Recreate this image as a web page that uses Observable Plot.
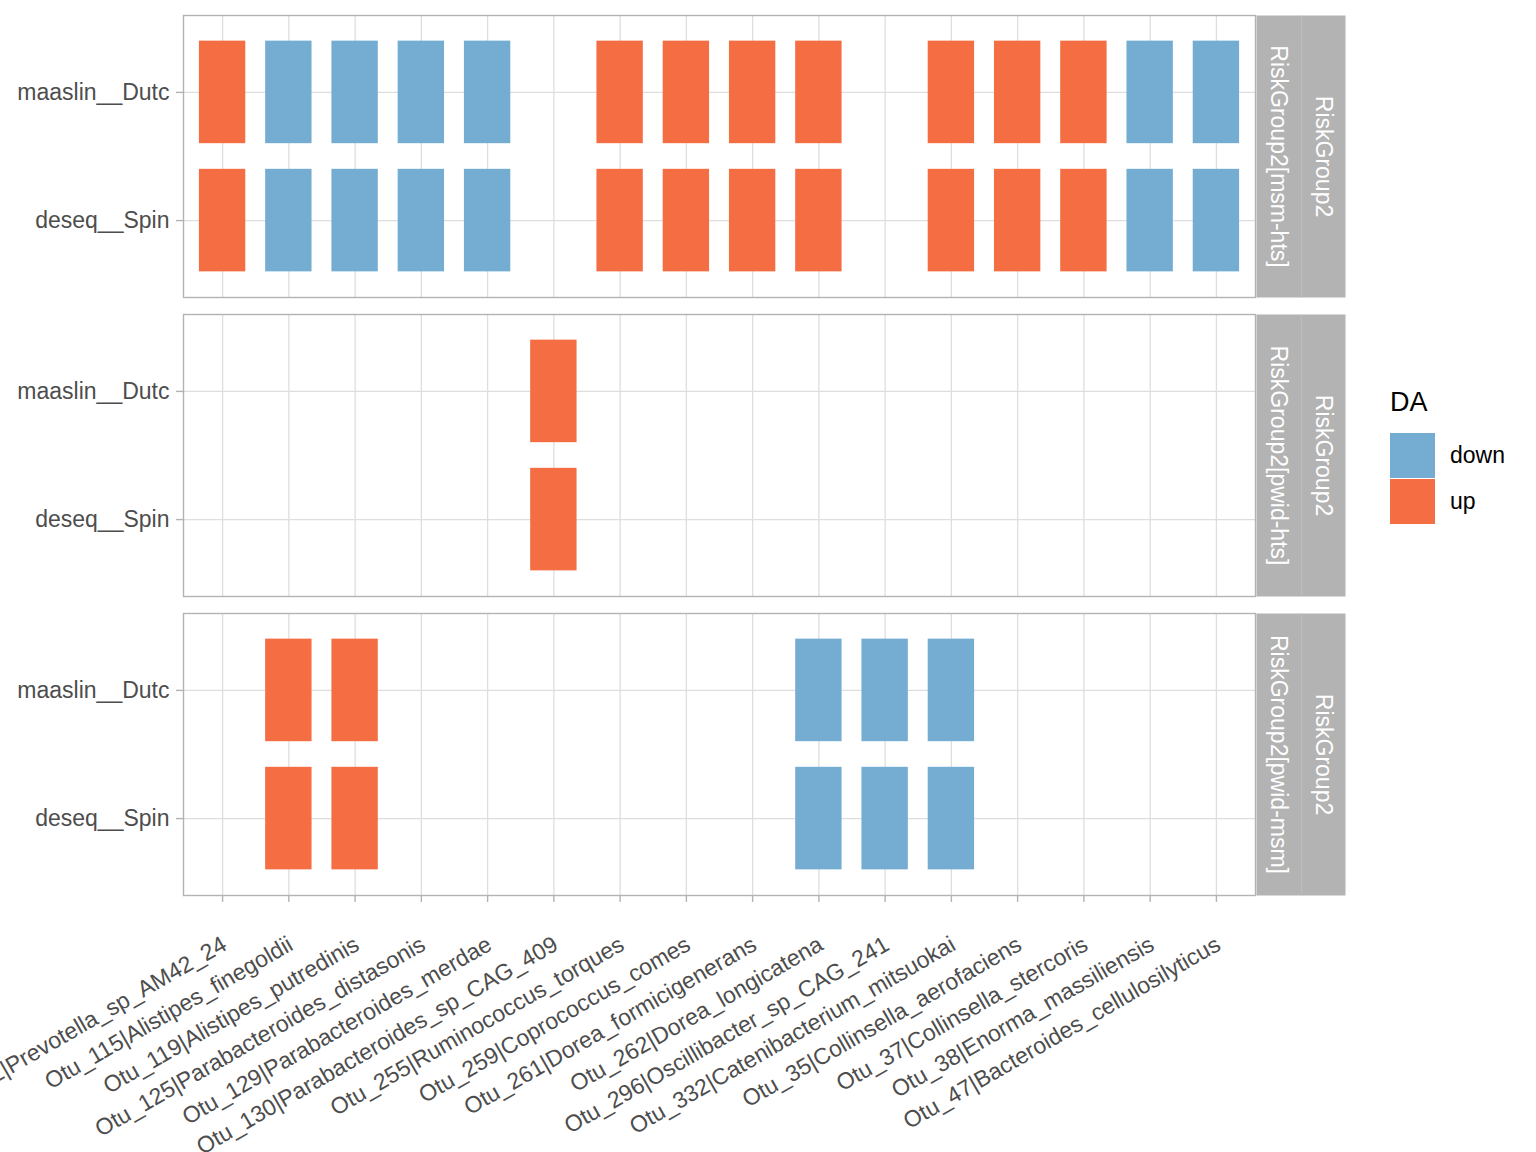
<!DOCTYPE html>
<html>
<head>
<meta charset="utf-8">
<script src="https://cdn.jsdelivr.net/npm/d3@7"></script>
<script src="https://cdn.jsdelivr.net/npm/@observablehq/plot@0.6"></script>
<style>
  html, body { margin: 0; padding: 0; background: white; }
  #wrap { position: relative; width: 1536px; height: 1152px; overflow: hidden; font-family: "Liberation Sans", Arial, sans-serif; }
  #legend { position: absolute; left: 1390px; top: 386px; color: #000; }
  #legend .title { font-size: 27px; line-height: 32px; margin-bottom: 14px; }
  #legend .row { display: flex; align-items: center; height: 46px; }
  #legend .key { width: 45px; height: 45px; margin-right: 15px; }
  #legend .lab { font-size: 23px; }
</style>
</head>
<body>
<div id="wrap"><div id="chart"></div><div id="legend"></div></div>
<script>
// ---- data ----
const otus = [
  "Otu_112|Prevotella_sp_AM42_24",
  "Otu_115|Alistipes_finegoldii",
  "Otu_119|Alistipes_putredinis",
  "Otu_125|Parabacteroides_distasonis",
  "Otu_129|Parabacteroides_merdae",
  "Otu_130|Parabacteroides_sp_CAG_409",
  "Otu_255|Ruminococcus_torques",
  "Otu_259|Coprococcus_comes",
  "Otu_261|Dorea_formicigenerans",
  "Otu_262|Dorea_longicatena",
  "Otu_296|Oscillibacter_sp_CAG_241",
  "Otu_332|Catenibacterium_mitsuokai",
  "Otu_35|Collinsella_aerofaciens",
  "Otu_37|Collinsella_stercoris",
  "Otu_38|Enorma_massiliensis",
  "Otu_47|Bacteroides_cellulosilyticus"
];
const methods = ["maaslin__Dutc", "deseq__Spin"];
const facetVar = "RiskGroup2";
const groups = ["RiskGroup2[msm-hts]", "RiskGroup2[pwid-hts]", "RiskGroup2[pwid-msm]"];
const daLevels = ["down", "up"];
const daColors = ["#74ADD1", "#F46D43"];

// DA call per OTU (same order as otus); "" = not significant
const msmHts_maaslin  = ["up","down","down","down","down","","up","up","up","up","","up","up","up","down","down"];
const msmHts_deseq    = ["up","down","down","down","down","","up","up","up","up","","up","up","up","down","down"];
const pwidHts_maaslin = ["","","","","","up","","","","","","","","","",""];
const pwidHts_deseq   = ["","","","","","up","","","","","","","","","",""];
const pwidMsm_maaslin = ["","up","up","","","","","","","down","down","down","","","",""];
const pwidMsm_deseq   = ["","up","up","","","","","","","down","down","down","","","",""];

const calls = [
  [msmHts_maaslin, msmHts_deseq],
  [pwidHts_maaslin, pwidHts_deseq],
  [pwidMsm_maaslin, pwidMsm_deseq]
];
const tiles = [];
groups.forEach((g, gi) => methods.forEach((m, mi) => otus.forEach((o, oi) => {
  const v = calls[gi][mi][oi];
  if (v) tiles.push({group: g, method: m, otu: o, da: v});
})));

// ---- layout ----
const W = 1536, H = 1152;
const mL = 183, mR = 281, mT = 15, mB = 257;
const panelW = W - mL - mR;
const stripW = 44.5;
const fs = 23;

const plot = Plot.plot({
  width: W, height: H,
  marginLeft: mL, marginRight: mR, marginTop: mT, marginBottom: mB,
  style: {fontFamily: "Liberation Sans, Arial, sans-serif", fontSize: fs + "px", background: "white", color: "#4D4D4D"},
  x: {domain: otus, paddingInner: 0.3, paddingOuter: 0.24, round: false, label: null},
  y: {domain: methods, paddingInner: 0.2, paddingOuter: 0.2, round: false, label: null},
  fy: {domain: groups, paddingInner: 17 / 299, paddingOuter: 0, round: false, axis: null, label: null},
  color: {domain: daLevels, range: daColors},
  marks: [
    Plot.gridX({stroke: "#DEDEDE", strokeOpacity: 1, strokeWidth: 1.3}),
    Plot.gridY({stroke: "#DEDEDE", strokeOpacity: 1, strokeWidth: 1.3}),
    Plot.cell(tiles, {x: "otu", y: "method", fy: "group", fill: "da"}),
    Plot.frame({stroke: "#B3B3B3", strokeWidth: 1.4}),
    // facet strips
    Plot.frame({fill: "#B3B3B3", stroke: null, insetLeft: panelW + 1, insetRight: -(1 + 2 * stripW)}),
    Plot.frame({fill: "#BDBDBD", stroke: null, insetLeft: panelW + 1 + stripW, insetRight: -(2 + stripW)}),
    Plot.text(groups, {fy: d => d, text: d => d, frameAnchor: "right", textAnchor: "middle", lineAnchor: "middle", dx: 1 + stripW / 2, rotate: 90, fill: "white", fontSize: fs}),
    Plot.text(groups, {fy: d => d, text: () => facetVar, frameAnchor: "right", textAnchor: "middle", lineAnchor: "middle", dx: 1 + stripW * 1.5, rotate: 90, fill: "white", fontSize: fs}),
    Plot.axisY({tickSize: 7, tickPadding: 7, stroke: "#B3B3B3", strokeWidth: 1.4, fill: "#4D4D4D", fontSize: fs, label: null}),
    // x ticks only
    Plot.axisX({tickSize: 7, tickFormat: () => "", stroke: "#B3B3B3", strokeWidth: 1.4, label: null}),
    // x tick labels only, rotated
    Plot.axisX({tickSize: 0, tickPadding: 13, tickRotate: -30, dx: 2, dy: 34, fill: "#4D4D4D", fontSize: fs, label: null})
  ]
});
document.getElementById("chart").appendChild(plot);

// ---- legend ----
const leg = d3.select("#legend");
leg.append("div").attr("class", "title").text("DA");
daLevels.forEach((d, i) => {
  const row = leg.append("div").attr("class", "row");
  row.append("div").attr("class", "key").style("background", daColors[i]);
  row.append("div").attr("class", "lab").text(d);
});
</script>
</body>
</html>
